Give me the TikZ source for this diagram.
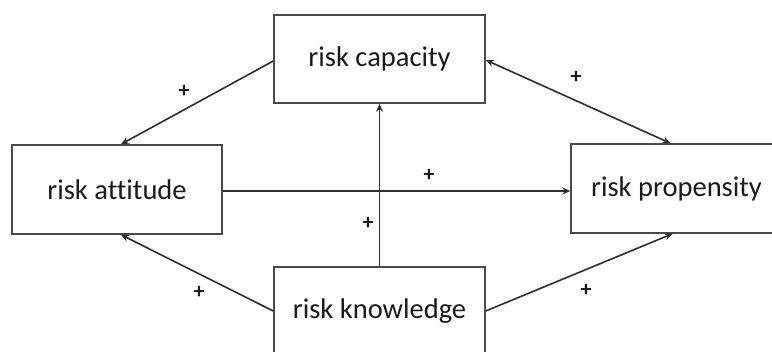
\documentclass[tikz,border=0pt]{standalone}
\usepackage{fontspec}
\setmainfont{Carlito}[Ligatures=NoCommon]
\usetikzlibrary{arrows.meta,calc}
\definecolor{boxline}{HTML}{4A4A4A}
\definecolor{arrline}{HTML}{2E2E2E}
\definecolor{txt}{HTML}{1A1A1A}
\begin{document}
\begin{tikzpicture}[x=1pt,y=-1pt,
  box/.style={draw=boxline,line width=1.5pt,fill=white,minimum width=211pt,minimum height=88pt,inner sep=0pt,font=\fontsize{28.5}{32}\selectfont,text=txt},
  conn/.style={draw=arrline,line width=1.6pt,-{Stealth[length=8pt,width=7pt]}},
  biconn/.style={draw=arrline,line width=1.6pt,{Stealth[length=8pt,width=7pt]}-{Stealth[length=8pt,width=7pt]}},
  plus/.style={font=\bfseries\fontsize{22}{24}\selectfont,text=txt,inner sep=0pt}]
\useasboundingbox (0,0) rectangle (772,352);
\clip (0,0) rectangle (772,352);
\fill[white] (0,0) rectangle (772,352);
\node[box] (cap) at (379.5,59) {risk capacity};
\node[box,minimum width=210pt,minimum height=89pt] (att) at (117,189.5) {risk attitude};
\node[box,minimum height=89pt] (prop) at (676.5,188.5) {risk propensity};
\node[box] (know) at (379.5,311) {risk knowledge};
\draw[conn] ($(cap.west)+(0,2)$) -- ($(att.north)+(4,0)$);
\draw[biconn] ($(cap.east)+(0,1)$) -- ($(prop.north)+(-6,0)$);
\draw[conn] ($(att.east)+(0,1.5)$) -- ($(prop.west)+(0,2.5)$);
\draw[conn] (know.north) -- (cap.south);
\draw[conn] (know.west) -- ($(att.south)+(4,0)$);
\draw[conn] (know.east) -- ($(prop.south)+(-4,0)$);
\node[plus] (p1) at (184,91) {+};
\node[plus] (p2) at (576,77) {+};
\node[plus] (p3) at (429,175) {+};
\node[plus] (p4) at (368,223) {+};
\node[plus] (p5) at (199,292) {+};
\node[plus] (p6) at (586,290) {+};
\end{tikzpicture}
\end{document}
